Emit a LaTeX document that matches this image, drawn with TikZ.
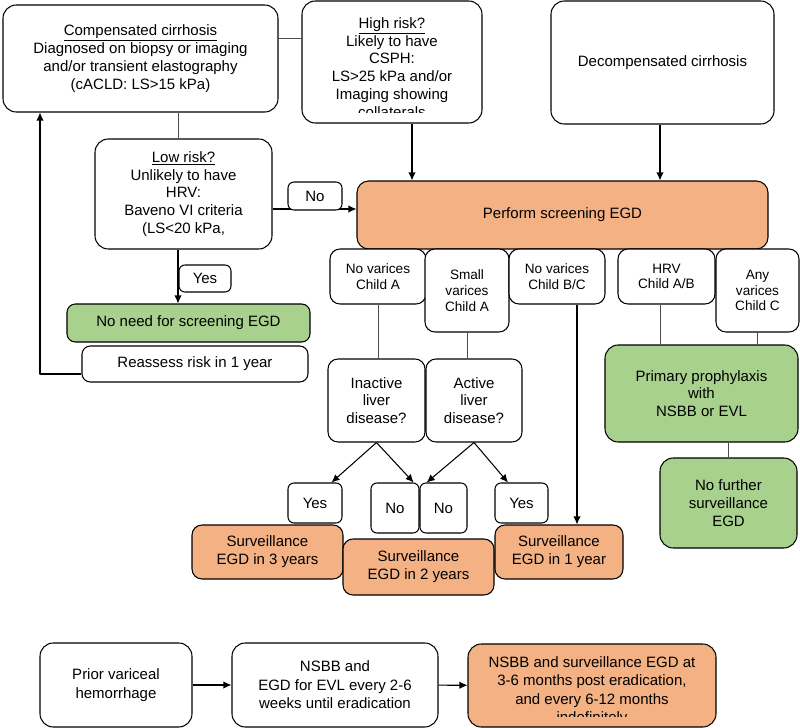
\documentclass[tikz,border=0pt]{standalone}
\usepackage{fontspec}
\setmainfont{Liberation Sans}
\usetikzlibrary{calc,arrows.meta}
\definecolor{salmon}{RGB}{244,177,131}
\definecolor{leaf}{RGB}{169,209,142}
\begin{document}
\begin{tikzpicture}[x=0.03cm,y=-0.03cm,>={Latex[length=2.4mm,width=2.2mm]},line join=round,
	font=\fontsize{12.8}{15.2}\selectfont,
	box/.style={draw,line width=0.9pt,rounded corners=0.4cm,align=center,inner sep=0pt},
	tag/.style={box,fill=white,rounded corners=0.18cm},
	sub/.style={box,fill=white,rounded corners=0.3cm,font=\fontsize{11.6}{13.4}\selectfont},
	sz/.style 2 args={minimum width=#1*0.03cm,minimum height=#2*0.03cm},
	link/.style={line width=0.6pt,draw=black!70},
	flow/.style={->,line width=0.9pt}]
	\useasboundingbox (0,0) rectangle (800,728);
	\node[box,sz={275}{107}] (comp) at (140.5,58.5) {\underline{Compensated cirrhosis}\\Diagnosed on biopsy or imaging\\and/or transient elastography\\(cACLD: LS>15 kPa)};
	\node[box,sz={180}{122}] (high) at (392,62) {};
	\begin{scope}
		\clip (303,2) rectangle (481,112);
		\node[align=center] (hightxt) at (392,67.5) {\underline{High risk?}\\Likely to have\\CSPH:\\LS>25 kPa and/or\\Imaging showing\\collaterals};
	\end{scope}
	\node[box,sz={223}{123}] (decomp) at (662.5,62.5) {Decompensated cirrhosis};
	\node[box,sz={177}{110}] (low) at (183.5,194) {\underline{Low risk?}\\Unlikely to have\\HRV:\\Baveno VI criteria\\(LS<20 kPa,};
	\node[box,fill=leaf,rounded corners=0.25cm,sz={243}{38}] (noneed) at (188.5,323) {No need for screening EGD};
	\node[box,rounded corners=0.25cm,sz={226}{36}] (reassess) at (195,364) {Reassess risk in 1 year};
	\node[box,fill=salmon,rounded corners=0.35cm,sz={411}{68}] (perform) at (562.5,215) {Perform screening EGD};
	\node[sub,sz={96}{55}] (nvA) at (378,276.5) {No varices\\Child A};
	\node[sub,sz={84}{83}] (smA) at (467,290.5) {Small\\varices\\Child A};
	\node[sub,sz={96}{55}] (nvBC) at (557,276.5) {No varices\\Child B/C};
	\node[sub,sz={97}{55}] (hrv) at (666.5,276.5) {HRV\\Child A/B};
	\node[sub,sz={83}{83}] (anyC) at (757.5,290.5) {Any\\varices\\Child C};
	\node[box,rounded corners=0.3cm,sz={97}{83}] (inact) at (376.5,400.5) {Inactive\\liver\\disease?};
	\node[box,rounded corners=0.3cm,sz={96}{83}] (act) at (474,400.5) {Active\\liver\\disease?};
	\node[tag,sz={54}{40}] (yesA) at (315,503) {Yes};
	\node[tag,sz={48}{50}] (noA) at (395,508) {No};
	\node[tag,sz={47}{50}] (noB) at (443.5,508) {No};
	\node[tag,sz={53}{40}] (yesB) at (521.5,503) {Yes};
	\node[box,fill=salmon,rounded corners=0.3cm,sz={151}{54}] (surv3) at (267.5,552) {Surveillance\\EGD in 3 years};
	\node[box,fill=salmon,rounded corners=0.3cm,sz={151}{56}] (surv2) at (418.5,567) {Surveillance\\EGD in 2 years};
	\node[box,fill=salmon,rounded corners=0.3cm,sz={128}{54}] (surv1) at (559,552) {Surveillance\\EGD in 1 year};
	\node[box,fill=leaf,sz={193}{97}] (prophy) at (701.5,393.5) {Primary prophylaxis\\with\\NSBB or EVL};
	\node[box,fill=leaf,sz={137}{90}] (nofur) at (728.5,503) {No further\\surveillance\\EGD};
	\begin{scope}[font=\fontsize{12.8}{15.8}\selectfont]
		\node[box,sz={152}{84}] (prior) at (116,685) {Prior variceal\\hemorrhage};
		\node[box,sz={206}{84}] (nsbb) at (335,685) {NSBB and\\EGD for EVL every 2-6\\weeks until eradication};
		\node[box,fill=salmon,sz={248}{83}] (post) at (592,685.5) {};
		\begin{scope}
			\clip (469,645) rectangle (715,716);
			\node[align=center] (posttxt) at (592,691) {NSBB and surveillance EGD at\\3-6 months post eradication,\\and every 6-12 months\\indefinitely};
		\end{scope}
	\end{scope}
	\coordinate (ycomp) at (0,38);
	\coordinate (xlow) at (178,0);
	\coordinate (yno) at (0,209);
	\coordinate (xhigh) at (412,0);
	\coordinate (xdec) at (660,0);
	\coordinate (xbc) at (577,0);
	\coordinate (back) at (40,374);
	\draw[link] (comp.east |- ycomp) -- (high.west |- ycomp);
	\draw[link] (comp.south -| xlow) -- (low.north -| xlow);
	\draw[flow] (low.south -| xlow) -- (noneed.north -| xlow);
	\draw[flow] (low.east |- yno) -- (perform.west |- yno);
	\draw[flow] (high.south -| xhigh) -- (perform.north -| xhigh);
	\draw[flow] (decomp.south -| xdec) -- (perform.north -| xdec);
	\draw[flow] (reassess.west |- back) -- (back) -- (back |- comp.south);
	\draw[link] (nvA.south) -- (nvA.south |- inact.north);
	\draw[link] (smA.south) -- (smA.south |- act.north);
	\draw[flow] (nvBC.south -| xbc) -- (surv1.north -| xbc);
	\draw[link] (hrv.south -| xdec) -- (prophy.north -| xdec);
	\draw[link] (anyC.south) -- (anyC.south |- prophy.north);
	\draw[link] (prophy.south -| nofur.north) -- (nofur.north);
	\draw[flow] (inact.south) -- ($(yesA.north west)!0.8!(yesA.north east)$);
	\draw[flow] (inact.south) -- ($(noA.north west)!0.88!(noA.north east)$);
	\draw[flow] (act.south) -- ($(noB.north west)!0.15!(noB.north east)$);
	\draw[flow] (act.south) -- ($(yesB.north west)!0.25!(yesB.north east)$);
	\draw[flow] (prior) -- (nsbb);
	\draw[flow] (nsbb) -- (post);
	\node[tag,sz={54}{28}] (nolbl) at (315,196) {No};
	\node[tag,sz={52}{27}] (yeslbl) at (205,278.5) {Yes};
\end{tikzpicture}
\end{document}
